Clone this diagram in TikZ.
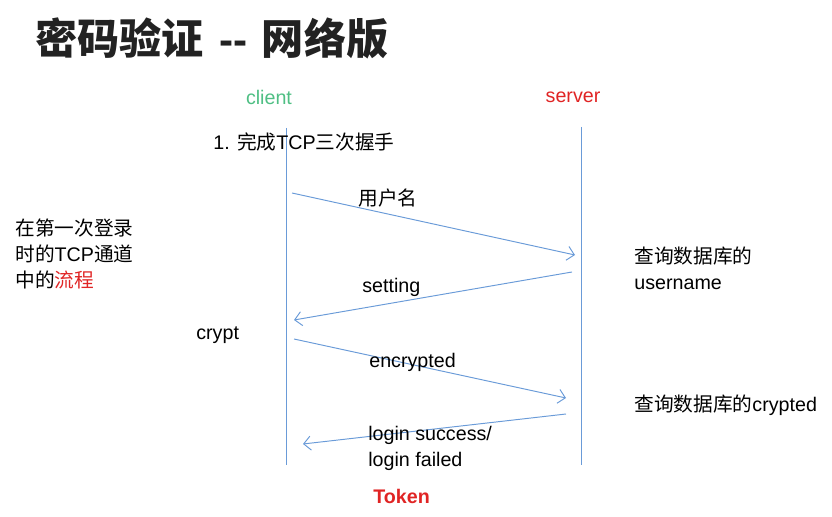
\documentclass[tikz,border=0pt]{standalone}
\usepackage{fontspec}
\usetikzlibrary{arrows.meta}
\setmainfont{Liberation Sans}
\newfontfamily\cjk{Noto Sans CJK SC}
\definecolor{lineblue}{HTML}{6A9BD8}
\definecolor{clientgreen}{HTML}{4FBF84}
\definecolor{serverred}{HTML}{E02424}
\definecolor{titlegray}{HTML}{222222}
\tikzset{
  >={Straight Barb[length=4pt, width=8pt]},
  lifeline/.style={draw=lineblue, line width=0.55pt},
  msg/.style={->, draw=lineblue, line width=0.55pt},
  txt/.style={font=\fontsize{11.2}{14.7}\selectfont, inner sep=0pt, anchor=west},
  headline/.style={font=\fontsize{24}{28}\selectfont\bfseries, text=titlegray, inner sep=0pt, anchor=west}
}
\begin{document}
\begin{tikzpicture}[x=0.02cm, y=-0.02cm]
\useasboundingbox (0,0) rectangle (832,517); % page frame

\node[headline] (title) at (35,38) {{\cjk 密码验证}\hspace{9pt}-{}-\hspace{8pt}{\cjk 网络版}}; % title

% lifelines
\coordinate (ctop) at (286,128);
\coordinate (cbot) at (286,465);
\coordinate (stop) at (581,127);
\coordinate (sbot) at (581,465);
\draw[lifeline] (ctop) -- (cbot); % client
\draw[lifeline] (stop) -- (sbot); % server

\node[txt, anchor=center, text=clientgreen] (client) at (269,97) {client};
\node[txt, anchor=center, text=serverred] (server) at (573,97) {server};

\node[txt] (handshake) at (213,142) {1. {\cjk 完成}TCP{\cjk 三次握手}};
\node[txt, align=left, anchor=west] (note) at (15,254)
  {{\cjk 在第一次登录}\\{\cjk 时的}TCP{\cjk 通道}\\{\cjk 中的\textcolor{serverred}{流程}}};

% messages
\coordinate (m1a) at (292,193); \coordinate (m1b) at (575,255);
\coordinate (m2a) at (572,272); \coordinate (m2b) at (294,320);
\coordinate (m3a) at (294,339); \coordinate (m3b) at (566,398);
\coordinate (m4a) at (566,414); \coordinate (m4b) at (303,444);
\draw[msg] (m1a) -- (m1b); % username
\draw[msg] (m2a) -- (m2b); % setting
\draw[msg] (m3a) -- (m3b); % encrypted
\draw[msg] (m4a) -- (m4b); % result

\node[txt] (user) at (358,198) {\cjk 用户名};
\node[txt] (setting) at (362,287) {setting};
\node[txt] (crypt) at (196,335) {crypt};
\node[txt] (encrypted) at (369,362) {encrypted};
\node[txt, align=left] (result) at (368,448) {login success/\\login failed};

\node[txt, align=left] (qname) at (634,268) {{\cjk 查询数据库的}\\username};
\node[txt] (qcrypt) at (634,405) {{\cjk 查询数据库的}crypted};

\node[txt, text=serverred, font=\fontsize{11.2}{14.7}\selectfont\bfseries] (token) at (373,496) {Token};
\end{tikzpicture}
\end{document}
